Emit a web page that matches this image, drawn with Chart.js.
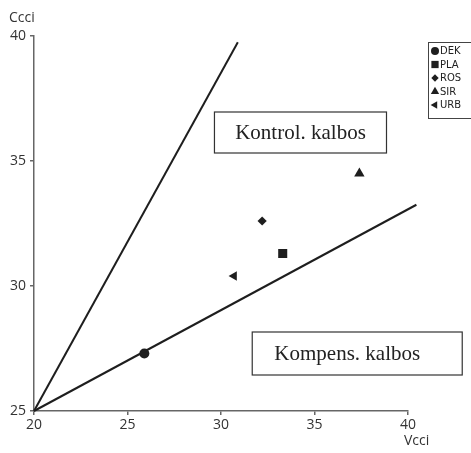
<!DOCTYPE html>
<html>
<head>
<meta charset="utf-8">
<script src="https://cdn.jsdelivr.net/npm/chart.js@4/dist/chart.umd.min.js"></script>
<style>
  html,body{margin:0;padding:0;background:#fff;}
  #wrap{width:471px;height:453px;position:relative;}
</style>
</head>
<body>
<div id="wrap"><canvas id="c"></canvas></div>
<script>
/* values */
const names = ["DEK","PLA","ROS","SIR","URB"];
const vcci = [25.9, 33.3, 32.2, 37.4, 30.7];
const ccci = [27.3, 31.3, 32.6, 34.5, 30.4];
const upperX = [20, 30.9], upperY = [25, 39.75];
const lowerX = [20, 40.45], lowerY = [25, 33.25];
const xTicks = [20,25,30,35,40];
const yTicks = [25,30,35,40];

const markers = [
  {style:"circle", r:5, rot:0},
  {style:"rect", r:6.4, rot:0},
  {style:"rectRot", r:4.6, rot:0},
  {style:"triangle", r:6, rot:0},
  {style:"triangle", r:5.5, rot:-90}
];
const INK = "#1e1e1e", AXIS = "#666";
const TICKFONT = {family:"'Open Sans', sans-serif", size:14};

function linePts(xs,ys){ return xs.map((x,i)=>({x:x,y:ys[i]})); }

const datasets = [
  {data:linePts(upperX,upperY), showLine:true, pointRadius:0, borderColor:INK, borderWidth:2, clip:false},
  {data:linePts(lowerX,lowerY), showLine:true, pointRadius:0, borderColor:INK, borderWidth:2, clip:false}
];
names.forEach((n,i)=>{
  datasets.push({label:n, data:[{x:vcci[i],y:ccci[i]}], pointStyle:markers[i].style, pointRadius:markers[i].r,
    rotation:markers[i].rot, backgroundColor:INK, borderColor:INK, borderWidth:0, clip:false});
});

// boxed labels, anchored in data coordinates (tx = text centre)
const boxes = [
  {text:"Kontrol. kalbos", x0:29.65, x1:38.85, y0:36.96, y1:35.32, tx:34.25},
  {text:"Kompens. kalbos", x0:31.67, x1:42.9, y0:28.16, y1:26.44, tx:36.75}
];

const extras = {
  id:"extras",
  afterDatasetsDraw(chart){
    const ctx = chart.ctx, xs = chart.scales.x, ys = chart.scales.y;
    ctx.save();
    // boxes
    boxes.forEach(b=>{
      const l = xs.getPixelForValue(b.x0), r = xs.getPixelForValue(b.x1);
      const t = ys.getPixelForValue(b.y0), btm = ys.getPixelForValue(b.y1);
      ctx.fillStyle = "#fff"; ctx.fillRect(l,t,r-l,btm-t);
      ctx.strokeStyle = "#333"; ctx.lineWidth = 1.2; ctx.strokeRect(l,t,r-l,btm-t);
      ctx.fillStyle = "#222"; ctx.font = "21px 'Liberation Serif', serif";
      ctx.textAlign = "center"; ctx.textBaseline = "middle";
      ctx.fillText(b.text, xs.getPixelForValue(b.tx), (t+btm)/2+1);
    });
    // axis titles
    ctx.fillStyle = "#333"; ctx.font = "14px 'Open Sans', sans-serif";
    ctx.textAlign = "left"; ctx.textBaseline = "middle";
    ctx.fillText("Ccci", 9, 18);
    ctx.fillText("Vcci", 404, 441);
    // legend
    const lx = 428, ly = 42, lw = 43, lh = 76;
    ctx.strokeStyle = "#444"; ctx.lineWidth = 1;
    ctx.strokeRect(lx+0.5, ly+0.5, lw, lh);
    ctx.font = "10px 'DejaVu Sans', sans-serif";
    names.forEach((n,i)=>{
      const yy = ly + 9 + i*13.5;
      ctx.fillStyle = INK; ctx.strokeStyle = INK;
      Chart.helpers.drawPoint(ctx, {pointStyle:markers[i].style, radius:markers[i].r*0.8, rotation:markers[i].rot, borderWidth:0}, lx+7, yy);
      ctx.fillStyle = "#222";
      ctx.fillText(n, lx+12, yy+0.5);
    });
    ctx.restore();
  }
};

new Chart(document.getElementById("c"), {
  type:"scatter",
  data:{datasets:datasets},
  options:{
    responsive:true, maintainAspectRatio:false, animation:false,
    layout:{padding:{top:36, right:63, left:0, bottom:0}},
    plugins:{legend:{display:false}, tooltip:{enabled:false}},
    scales:{
      x:{type:"linear", min:20, max:40,
        afterBuildTicks(s){ s.ticks = xTicks.map(v=>({value:v})); },
        afterFit(s){ s.height = 42; },
        grid:{drawOnChartArea:false, drawTicks:true, tickLength:4, color:AXIS, lineWidth:1.5},
        border:{display:true, color:AXIS, width:1.5},
        ticks:{font:TICKFONT, color:"#333", padding:2, maxRotation:0}
      },
      y:{type:"linear", min:25, max:40,
        afterBuildTicks(s){ s.ticks = yTicks.map(v=>({value:v})); },
        afterFit(s){ s.width = 34; },
        grid:{drawOnChartArea:false, drawTicks:true, tickLength:4, color:AXIS, lineWidth:1.5},
        border:{display:true, color:AXIS, width:1.5},
        ticks:{font:TICKFONT, color:"#333", padding:4}
      }
    }
  },
  plugins:[extras]
});
</script>
</body>
</html>
